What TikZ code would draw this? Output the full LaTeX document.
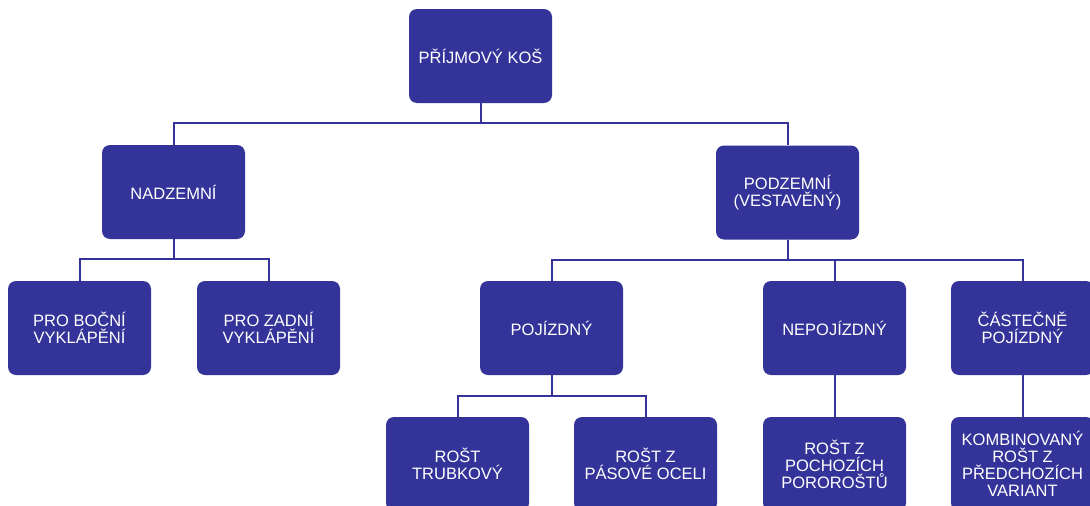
\documentclass[tikz,border=0pt]{standalone}
\usepackage{fontspec}
\setmainfont{Liberation Sans}
\definecolor{boxblue}{HTML}{333399}
\begin{document}
\begin{tikzpicture}[x=1pt,y=-1pt,
  box/.style={draw=none, fill=boxblue, rounded corners=8pt, minimum width=143pt, minimum height=94pt,
    inner sep=0pt, text=white, align=center, font=\fontsize{16.5}{17}\selectfont},
  conn/.style={draw=boxblue, line width=2pt}]
\useasboundingbox (0,0) rectangle (1090,506);
\clip (0,0) rectangle (1090,506);
\node[box] (root) at (480.5,56) {PŘÍJMOVÝ KOŠ};
\node[box] (nad) at (173.5,192) {NADZEMNÍ};
\node[box] (pod) at (787.5,192.5) {PODZEMNÍ\\(VESTAVĚNÝ)};
\node[box] (pb) at (79.5,328) {PRO BOČNÍ\\VYKLÁPĚNÍ};
\node[box] (pz) at (268.5,328) {PRO ZADNÍ\\VYKLÁPĚNÍ};
\node[box] (poj) at (551.5,328) {POJÍZDNÝ};
\node[box] (nep) at (834.5,328) {NEPOJÍZDNÝ};
\node[box] (cast) at (1022.5,328) {ČÁSTEČNĚ\\POJÍZDNÝ};
\node[box] (rt) at (457.5,464) {ROŠT\\TRUBKOVÝ};
\node[box] (rp) at (645.5,464) {ROŠT Z\\PÁSOVÉ OCELI};
\node[box] (rpo) at (834.5,464) {ROŠT Z\\POCHOZÍCH\\POROROŠTŮ};
\node[box] (kom) at (1022.5,464) {KOMBINOVANÝ\\ROŠT Z\\PŘEDCHOZÍCH\\VARIANT};
\draw[conn] (root.south) -- ++(0,20) -| (nad.north);
\draw[conn] (root.south) -- ++(0,20) -| (pod.north);
\draw[conn] (nad.south) -- ++(0,20) -| (pb.north);
\draw[conn] (nad.south) -- ++(0,20) -| (pz.north);
\draw[conn] (pod.south) -- ++(0,20) -| (poj.north);
\draw[conn] (pod.south) -- ++(0,20) -| (nep.north);
\draw[conn] (pod.south) -- ++(0,20) -| (cast.north);
\draw[conn] (poj.south) -- ++(0,21) -| (rt.north);
\draw[conn] (poj.south) -- ++(0,21) -| (rp.north);
\draw[conn] (nep.south) -- (rpo.north);
\draw[conn] (cast.south) -- (kom.north);
\end{tikzpicture}
\end{document}
